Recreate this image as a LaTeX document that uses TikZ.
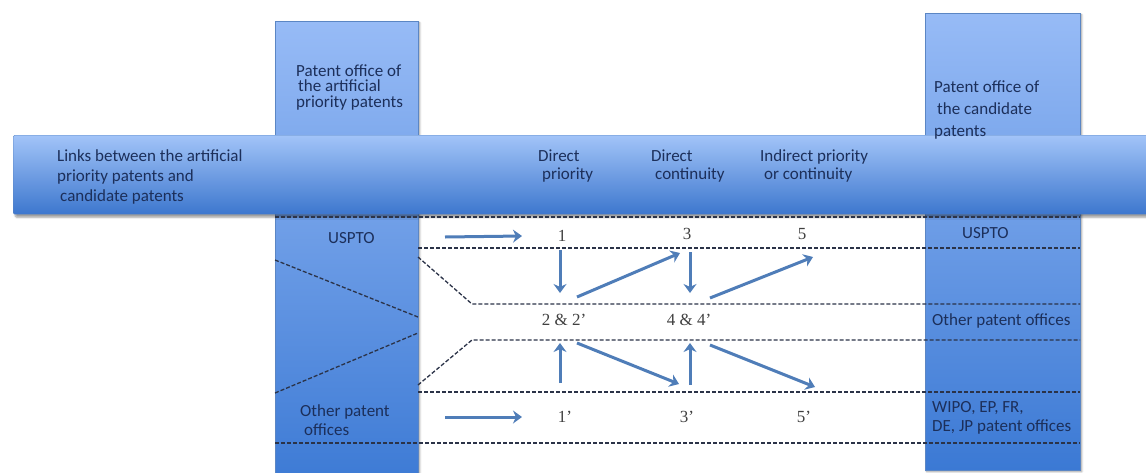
\documentclass[tikz,border=0pt]{standalone}
\usepackage{fontspec}
\setmainfont{Carlito}
\newfontfamily\numfont{Liberation Serif}
\usetikzlibrary{positioning, arrows.meta, shadows.blur}

\definecolor{coltop}{HTML}{97BBF6}
\definecolor{colbot}{HTML}{3B79D4}
\definecolor{bandtop}{HTML}{A2C4F8}
\definecolor{bandbot}{HTML}{3D77CE}
\definecolor{edgeblue}{HTML}{5B86C4}
\definecolor{navy}{HTML}{1C2F5A}
\definecolor{arrowblue}{HTML}{4F7DB8}
\definecolor{dashgray}{HTML}{2B3348}

\begin{document}
\begin{tikzpicture}[
    x=1pt, y=-1pt,
    font=\fontsize{17}{16}\selectfont,
    column/.style={rectangle, draw=edgeblue, thin, top color=coltop, bottom color=colbot,
                   anchor=north west, inner sep=0pt,
                   blur shadow={shadow xshift=1.5pt, shadow yshift=-1.5pt, shadow blur steps=4}},
    band/.style={rectangle, rounded corners=1.5pt, draw=edgeblue, thin, top color=bandtop, bottom color=bandbot,
                 anchor=north west, inner sep=0pt,
                 blur shadow={shadow xshift=2pt, shadow yshift=-3pt, shadow blur steps=6}},
    label/.style={text=navy, align=left, anchor=west, inner sep=0pt},
    num/.style={text=black!75, font=\numfont\fontsize{17}{16}\selectfont, inner sep=1pt},
    divider/.style={draw=dashgray, line width=1.3pt, dash pattern=on 4pt off 2pt},
    arrow/.style={-{Stealth[length=9pt,width=13pt]}, line width=3pt, draw=arrowblue}
]
\useasboundingbox (0,0) rectangle (1146,472);
\clip (0,0) rectangle (1146,472);

% --- Columns and band ---
\node[column, minimum width=143pt, minimum height=470pt] (artcol) at (275,21) {};
\node[column, minimum width=155pt, minimum height=457pt] (candcol) at (925,13) {};
\node[band, minimum width=1145pt, minimum height=79pt] (band) at (13,135) {};

% --- Headers ---
\node[label, font=\fontsize{17}{15.5}\selectfont] (arthead) at (296,87)
    {Patent office of\\\hspace{2pt}the artificial\\priority patents};
\node[label, font=\fontsize{17}{22}\selectfont] (candhead) at (934,110)
    {Patent office of\\\hspace{3pt}the candidate\\patents};
\node[label, font=\fontsize{17}{20}\selectfont] (links) at (57,177)
    {Links between the artificial\\priority patents and\\\hspace{3pt}candidate patents};
\node[label, font=\fontsize{17}{18}\selectfont] (dirprio) at (538,166) {Direct\\\hspace{4pt}priority};
\node[label, font=\fontsize{17}{18}\selectfont] (dircont) at (651,166) {Direct\\\hspace{4pt}continuity};
\node[label, font=\fontsize{17}{18}\selectfont] (indir) at (760,166) {Indirect priority\\\hspace{4pt}or continuity};

% --- Office labels ---
\node[label] (uspleft) at (328,238) {USPTO};
\node[label, font=\fontsize{17}{19}\selectfont] (othleft) at (300,420) {Other patent\\\hspace{4pt}offices};
\node[label] (uspright) at (962,233) {USPTO};
\node[label] (othright) at (932,321) {Other patent offices};
\node[label, font=\fontsize{17}{19}\selectfont] (wiporight) at (932,418) {WIPO, EP, FR,\\DE, JP patent offices};

% --- Dashed separators ---
\draw[divider] (275,217) -- (1080,217);
\draw[divider] (418,248) -- (1080,248);
\draw[divider] (418,257) -- (472,304) -- (1080,304);
\draw[divider] (418,385) -- (472,340) -- (1080,340);
\draw[divider] (418,392) -- (1080,392);
\draw[divider] (275,443) -- (1080,443);
\draw[divider] (275,260) -- (418,317);
\draw[divider] (275,393) -- (418,333);

% --- Link numbers ---
\node[num] (n1) at (562,236) {1};
\node[num] (n3) at (687,234) {3};
\node[num] (n5) at (802,234) {5};
\node[num] (n22) at (564,320) {2 \& 2’};
\node[num] (n44) at (689,320) {4 \& 4’};
\node[num] (n1p) at (565,417) {1’};
\node[num] (n3p) at (687,417) {3’};
\node[num] (n5p) at (804,417) {5’};

% --- Arrows ---
\coordinate (inusp) at (445,237);
\coordinate (inoth) at (445,417);
\draw[arrow] (inusp) -- ([xshift=-40pt]n1.center);
\draw[arrow] (inoth) -- ([xshift=-43pt]n1p.center);
\draw[arrow] ([shift={(-2,14)}]n1.center) -- ([shift={(-4,-27)}]n22.center);
\draw[arrow] ([shift={(13,-23)}]n22.center) -- ([shift={(-7,19)}]n3.center);
\draw[arrow] ([shift={(3,18)}]n3.center) -- ([shift={(1,-27)}]n44.center);
\draw[arrow] ([shift={(21,-22)}]n44.center) -- ([shift={(11,23)}]n5.center);
\draw[arrow] ([shift={(-5,-34)}]n1p.center) -- ([shift={(-4,23)}]n22.center);
\draw[arrow] ([shift={(13,23)}]n22.center) -- ([shift={(-8,-33)}]n3p.center);
\draw[arrow] ([shift={(3,-32)}]n3p.center) -- ([shift={(1,23)}]n44.center);
\draw[arrow] ([shift={(21,25)}]n44.center) -- ([shift={(11,-30)}]n5p.center);

\end{tikzpicture}
\end{document}
